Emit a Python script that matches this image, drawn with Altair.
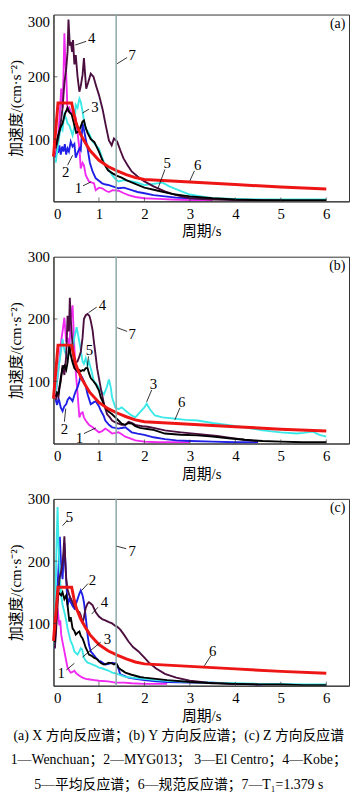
import altair as alt
import pandas as pd

SERIF = "Liberation Serif, Times New Roman, Noto Sans CJK SC"
X_TICKS = [0, 1, 2, 3, 4, 5, 6]
Y_TICKS = [100, 200, 300]
INNER_X = [1, 2, 3, 4, 5, 6]
INNER_Y = [100, 200]
Y_TITLE = "加速度/(cm·s⁻²)"
X_TITLE = "周期/s"
T1 = [1.379]
SERIES_IDS = ["1", "2", "3", "4", "5"]
SERIES_COLORS = ["#f02af0", "#1f1fe6", "#3ae8e8", "#4b0f3f", "#000000"]
RED = "#ee1515"
GREY = "#8ca6a6"
FRAME = "#333333"

# code (design) spectrum, curve 6
R_T = [0, 0.1, 0.4, 0.45, 0.5, 0.6, 0.7, 0.8, 1.0, 1.2, 1.4, 1.6, 1.8, 2.0, 3.0, 4.0, 5.0, 6.0]
R_A = [72, 158, 158, 140, 125, 107, 94, 82, 66, 56, 49, 43, 38, 35, 31, 27, 23, 20]

# ---------- panel (a) X ----------
a1_T = [0.05,0.08,0.11,0.14,0.17,0.2,0.22,0.24,0.26,0.28,0.31,0.35,0.4,0.45,0.49,0.53,0.57,0.6,0.64,0.67,0.71,0.78,0.85,0.89,0.93,1.0,1.07,1.15,1.22,1.3,1.43,1.55,1.65,1.8,2.0,2.3,2.6,3.0,3.5]
a1_A = [75,90,110,140,181,150,200,270,230,203,144,150,140,145,133,110,85,53,62,58,42,32,30,29,18,22,21,17,15,18,17,13,10,7,5,4,3,2,2]
a2_T = [0.05,0.08,0.1,0.13,0.16,0.19,0.22,0.25,0.28,0.31,0.34,0.38,0.42,0.46,0.49,0.53,0.57,0.6,0.64,0.67,0.71,0.75,0.8,0.86,0.93,1.0,1.07,1.15,1.22,1.3,1.43,1.55,1.72,1.85,2.0,2.2,2.45,2.7,3.0,3.5,4.0]
a2_A = [70,85,78,90,75,88,80,92,75,85,80,96,88,92,70,78,85,82,125,115,100,85,62,48,37,33,29,27,26,24,21,22,18,15,13,10,8,6,5,4,3]
a3_T = [0.05,0.08,0.11,0.14,0.17,0.2,0.24,0.28,0.31,0.35,0.38,0.42,0.46,0.49,0.53,0.57,0.6,0.64,0.67,0.71,0.78,0.86,0.93,1.0,1.07,1.14,1.22,1.29,1.36,1.43,1.55,1.72,1.85,2.0,2.2,2.4,2.55,2.75,3.0,3.25,3.5,4.0,4.6,5.2,6.0]
a3_A = [62,80,95,110,120,115,140,133,125,122,115,106,120,155,150,165,160,144,130,117,110,96,90,85,70,58,50,42,36,32,34,32,30,26,28,30,24,18,11,8,5,4,3,3,3]
a4_T = [0.05,0.1,0.15,0.2,0.24,0.28,0.31,0.33,0.36,0.38,0.41,0.43,0.46,0.49,0.53,0.57,0.6,0.64,0.67,0.7,0.72,0.76,0.82,0.88,0.94,1.0,1.08,1.15,1.22,1.28,1.33,1.4,1.47,1.54,1.63,1.72,1.85,2.0,2.2,2.45,2.7,3.0,3.5,4.0,4.5,5.05]
a4_A = [85,100,120,150,190,213,240,292,250,256,240,259,220,235,200,176,185,203,230,200,181,190,205,200,185,171,148,122,98,90,101,96,82,69,58,48,40,32,24,16,10,5,3,2,2,1]
a5_T = [0.05,0.1,0.15,0.2,0.25,0.31,0.35,0.4,0.45,0.5,0.55,0.6,0.64,0.67,0.71,0.75,0.82,0.9,1.0,1.1,1.2,1.3,1.4,1.5,1.6,1.8,2.0,2.3,2.6,3.0,3.5,4.0,4.5,5.0,5.5,6.0]
a5_A = [90,105,118,125,140,150,143,140,125,110,112,120,128,130,118,110,100,95,80,62,50,45,41,38,34,28,22,17,12,8,5,3,2,2,2,2]

# ---------- panel (b) Y ----------
b1_T = [0.05,0.08,0.11,0.14,0.17,0.2,0.24,0.28,0.31,0.35,0.38,0.42,0.46,0.49,0.53,0.57,0.6,0.64,0.67,0.71,0.78,0.86,0.93,1.0,1.07,1.14,1.22,1.29,1.36,1.43,1.5,1.58,1.7,1.8,2.0,2.3,2.6,3.0]
b1_A = [75,100,120,142,165,180,202,163,170,150,200,222,153,116,80,42,48,50,42,37,30,26,22,18,20,24,20,16,17,18,15,11,8,5,3,2,2,2]
b2_T = [0.05,0.08,0.11,0.13,0.16,0.2,0.24,0.28,0.31,0.35,0.38,0.42,0.46,0.49,0.53,0.57,0.6,0.64,0.67,0.71,0.75,0.82,0.88,0.93,1.0,1.04,1.1,1.14,1.22,1.29,1.36,1.43,1.5,1.58,1.65,1.72,1.85,2.0,2.2,2.45,2.7,3.0,3.5,4.0,4.5]
b2_A = [70,62,72,68,58,52,60,63,70,74,72,68,78,84,90,100,110,105,100,92,79,63,66,68,60,53,45,37,30,26,25,24,25,26,22,18,16,14,10,7,5,4,3,2,2]
b3_T = [0.05,0.08,0.11,0.14,0.17,0.2,0.24,0.28,0.31,0.35,0.38,0.42,0.46,0.51,0.54,0.57,0.6,0.64,0.67,0.71,0.75,0.78,0.83,0.89,0.95,1.0,1.05,1.11,1.17,1.22,1.26,1.29,1.36,1.43,1.5,1.58,1.7,1.8,1.9,2.0,2.05,2.12,2.23,2.4,2.67,2.9,3.17,3.5,3.9,4.3,4.6,5.0,5.35,5.5,5.7,5.85,6.0]
b3_A = [80,100,120,135,150,168,150,142,135,150,160,150,170,187,175,163,150,132,128,137,125,132,118,100,95,89,84,79,90,103,90,74,58,55,58,53,46,42,50,58,64,55,45,42,40,38,37,33,29,25,21,18,16,17,19,14,11]
b4_T = [0.05,0.08,0.11,0.13,0.16,0.2,0.24,0.28,0.31,0.34,0.36,0.38,0.41,0.44,0.46,0.5,0.53,0.57,0.6,0.64,0.67,0.71,0.75,0.79,0.82,0.86,0.89,0.93,0.96,1.0,1.04,1.08,1.11,1.15,1.18,1.24,1.29,1.36,1.43,1.5,1.58,1.65,1.72,1.8,1.86,1.95,2.07,2.2,2.45,2.8,3.2,3.6,3.9,4.2,4.5]
b4_A = [70,80,75,89,100,126,110,140,205,180,234,200,168,140,126,130,132,140,147,170,200,206,208,205,197,182,163,140,121,105,89,75,63,54,47,42,37,34,32,30,30,35,33,30,29,28,27,25,21,18,15,12,9,6,4]
b5_T = [0.05,0.08,0.11,0.13,0.16,0.2,0.24,0.28,0.31,0.35,0.38,0.42,0.46,0.5,0.53,0.57,0.6,0.64,0.67,0.71,0.75,0.78,0.82,0.88,0.93,1.0,1.04,1.1,1.14,1.2,1.29,1.36,1.43,1.5,1.58,1.65,1.72,1.8,1.9,2.0,2.1,2.2,2.45,2.8,3.17,3.5,3.9,4.2,4.6,5.0,5.5,6.0]
b5_A = [75,82,80,89,105,121,125,118,130,158,142,130,121,118,115,118,116,118,117,121,121,113,105,100,95,85,74,65,58,52,47,42,37,32,30,33,32,28,25,24,23,22,16,14,13,11,8,6,4,3,2,2]

# ---------- panel (c) Z ----------
c1_T = [0.03,0.06,0.09,0.11,0.13,0.15,0.17,0.2,0.24,0.28,0.31,0.35,0.38,0.42,0.46,0.5,0.57,0.64,0.71,0.8,0.9,1.0,1.2,1.36,1.55,1.72,2.0,2.5]
c1_A = [70,100,124,110,97,105,82,70,55,40,29,24,21,22,24,20,16,13,11,10,9,8,7,5,5,4,3,3]
c2_T = [0.03,0.06,0.09,0.12,0.14,0.17,0.2,0.22,0.24,0.26,0.28,0.31,0.35,0.38,0.42,0.46,0.49,0.53,0.57,0.6,0.64,0.67,0.71,0.75,0.78,0.82,0.88,0.93,1.0,1.04,1.1,1.14,1.22,1.29,1.36,1.4,1.44,1.47,1.54,1.65,1.8,2.0,2.25,2.5,3.0,3.5,4.0,4.6]
c2_A = [60,110,160,200,239,190,171,200,229,200,171,129,140,134,128,124,130,139,148,153,145,134,110,82,66,55,50,45,40,39,36,34,35,37,36,34,25,18,16,13,11,9,7,6,5,5,3,2]
c3_T = [0.02,0.04,0.06,0.08,0.09,0.11,0.13,0.15,0.17,0.2,0.24,0.28,0.31,0.35,0.38,0.42,0.46,0.5,0.53,0.57,0.6,0.63,0.67,0.71,0.75,0.8,0.86,0.93,1.0,1.07,1.14,1.22,1.29,1.36,1.43,1.55,1.72,1.85,2.0,2.25,2.5,3.0,3.5,4.0,4.5,5.0,5.5,6.0]
c3_A = [60,120,200,260,287,230,197,165,145,130,118,105,92,80,71,65,55,52,50,55,60,58,45,40,37,36,34,32,29,28,26,24,21,20,18,15,13,12,11,9,8,6,5,4,3,3,2,2]
c4_T = [0.03,0.06,0.1,0.13,0.17,0.2,0.22,0.24,0.26,0.28,0.31,0.35,0.38,0.42,0.46,0.49,0.53,0.57,0.6,0.64,0.67,0.71,0.75,0.78,0.82,0.86,0.93,1.0,1.07,1.14,1.22,1.29,1.36,1.4,1.47,1.55,1.65,1.75,1.87,2.0,2.1,2.25,2.45,2.7,3.0,3.4,3.9,4.5]
c4_A = [60,92,140,171,185,197,215,240,200,171,155,145,140,134,128,124,120,118,113,100,110,125,132,134,132,129,118,111,107,105,102,100,96,95,90,82,71,62,55,45,37,28,19,13,8,5,3,2]
c5_T = [0.03,0.06,0.09,0.13,0.17,0.2,0.24,0.28,0.31,0.35,0.38,0.42,0.46,0.49,0.53,0.57,0.6,0.64,0.67,0.71,0.75,0.78,0.84,0.89,0.95,1.0,1.05,1.11,1.16,1.22,1.28,1.33,1.38,1.43,1.5,1.58,1.7,1.8,1.9,2.0,2.25,2.5,3.0,3.5,4.0,4.5,5.0,5.5,6.0]
c5_A = [70,118,150,148,145,150,139,145,129,103,110,92,88,82,85,87,80,76,70,61,55,50,48,45,43,39,36,34,35,37,36,34,36,29,25,21,18,16,14,13,11,9,6,4,3,2,2,1,1]

# curve-number labels: text, T, A
a_lab_txt = ["4", "7", "3", "2", "1", "5", "6"]
a_lab_T = [0.84, 1.73, 0.91, 0.27, 0.55, 2.5, 3.17]
a_lab_A = [262, 235, 151, 47, 21, 62, 59]
a_lead = [(0.72, 257, 0.48, 251), (1.62, 231, 1.40, 221), (0.78, 148, 0.64, 142),
          (0.31, 58, 0.42, 74), (0.65, 25, 0.82, 31), (2.45, 51, 2.3, 21), (3.1, 49, 3.0, 33)]
b_lab_txt = ["4", "7", "5", "3", "6", "2", "1"]
b_lab_T = [1.08, 1.73, 0.79, 2.2, 2.82, 0.24, 0.57]
b_lab_A = [222, 176, 150, 95, 67, 23, 9]
b_lead = [(0.95, 219, 0.77, 210), (1.62, 180, 1.40, 186), (0.77, 140, 0.74, 121),
          (2.16, 86, 2.05, 67), (2.78, 57, 2.67, 38), (0.24, 35, 0.27, 56), (0.67, 16, 0.93, 25)]
c_lab_txt = ["5", "7", "2", "4", "3", "6", "1"]
c_lab_T = [0.35, 1.73, 0.86, 1.12, 1.19, 3.5, 0.17]
c_lab_A = [270, 217, 169, 134, 75, 56, 21]
c_lead = [(0.3, 265, 0.2, 257), (1.6, 220, 1.39, 224), (0.76, 164, 0.62, 153),
          (0.98, 126, 0.84, 115), (1.04, 70, 0.64, 46), (3.46, 48, 3.32, 32), (0.28, 25, 0.46, 36)]

CAPTION = ["(a) X 方向反应谱；(b) Y 方向反应谱；(c) Z 方向反应谱",
           "1—Wenchuan；2—MYG013；  3—El Centro；4—Kobe；",
           "5—平均反应谱；6—规范反应谱；7—T₁=1.379 s"]

W, H = 299, 189


def panel(tag, series, lab_txt, lab_T, lab_A, leads, flush=False):
    rows = []
    for sid, (T, A) in zip(SERIES_IDS, series):
        for t, a in zip(T, A):
            rows.append({"s": sid, "T": t, "A": a})
    df = pd.DataFrame(rows)
    xs = alt.Scale(domain=[0, 6.5], nice=False, zero=False)
    ys = alt.Scale(domain=[0, 300], nice=False)
    xa = alt.Axis(values=X_TICKS, title=X_TITLE, ticks=False, tickSize=0, grid=False,
                  labelFont=SERIF, labelFontSize=15, labelColor="black", labelPadding=5,
                  titleFont=SERIF, titleFontSize=15, titleFontWeight="normal", titleColor="black",
                  titlePadding=3, domainColor=FRAME, format="d")
    ya = alt.Axis(values=Y_TICKS, title=Y_TITLE, ticks=False, tickSize=0, grid=False,
                  labelFont=SERIF, labelFontSize=15, labelColor="black", labelPadding=4,
                  titleFont=SERIF, titleFontSize=15, titleFontWeight="normal", titleColor="black",
                  titlePadding=4, domainColor=FRAME, labelFlush=flush, format="d")
    lines = alt.Chart(df).mark_line(strokeWidth=1.9, clip=True).encode(
        x=alt.X("T:Q", scale=xs, axis=xa),
        y=alt.Y("A:Q", scale=ys, axis=ya),
        color=alt.Color("s:N", scale=alt.Scale(domain=SERIES_IDS, range=SERIES_COLORS), legend=None),
    )
    red = alt.Chart(pd.DataFrame({"T": R_T, "A": R_A})).mark_line(
        color=RED, strokeWidth=3).encode(x="T:Q", y="A:Q")
    vline = alt.Chart(pd.DataFrame({"T": T1})).mark_rule(color=GREY, strokeWidth=1.5).encode(x="T:Q")
    ld = pd.DataFrame(leads, columns=["x", "y", "x2", "y2"])
    leaders = alt.Chart(ld).mark_rule(color="black", strokeWidth=0.8).encode(
        x="x:Q", y="y:Q", x2="x2:Q", y2="y2:Q")
    labs = alt.Chart(pd.DataFrame({"t": lab_txt, "T": lab_T, "A": lab_A})).mark_text(
        font=SERIF, fontSize=15, color="black").encode(x="T:Q", y="A:Q", text="t:N")
    tagm = alt.Chart(pd.DataFrame({"t": [tag], "T": [6.42], "A": [285]})).mark_text(
        font=SERIF, fontSize=14, color="black", align="right").encode(x="T:Q", y="A:Q", text="t:N")
    xt = alt.Chart(pd.DataFrame({"v": INNER_X})).mark_tick(
        orient="vertical", size=4, thickness=1, color=FRAME, yOffset=-2).encode(
        x="v:Q", y=alt.datum(0))
    yt = alt.Chart(pd.DataFrame({"v": INNER_Y})).mark_tick(
        orient="horizontal", size=4, thickness=1, color=FRAME, xOffset=2).encode(
        y="v:Q", x=alt.datum(0))
    return alt.layer(lines, red, vline, leaders, labs, tagm, xt, yt).properties(width=W, height=H)


pa = panel("(a)", [(a1_T, a1_A), (a2_T, a2_A), (a3_T, a3_A), (a4_T, a4_A), (a5_T, a5_A)],
           a_lab_txt, a_lab_T, a_lab_A, a_lead, flush=True)
pb = panel("(b)", [(b1_T, b1_A), (b2_T, b2_A), (b3_T, b3_A), (b4_T, b4_A), (b5_T, b5_A)],
           b_lab_txt, b_lab_T, b_lab_A, b_lead)
pc = panel("(c)", [(c1_T, c1_A), (c2_T, c2_A), (c3_T, c3_A), (c4_T, c4_A), (c5_T, c5_A)],
           c_lab_txt, c_lab_T, c_lab_A, c_lead)

chart = alt.vconcat(pa, pb, pc, spacing=56, bounds="flush").properties(
    padding={"left": 0, "top": 0, "right": 0, "bottom": 0},
    title=alt.TitleParams(text=CAPTION, orient="bottom", anchor="middle", font=SERIF,
                          fontSize=14, fontWeight="normal", color="black", lineHeight=25, offset=5),
).configure_view(stroke=FRAME, strokeWidth=1)

chart.save("out.html", embed_options={"renderer": "svg", "actions": False})
